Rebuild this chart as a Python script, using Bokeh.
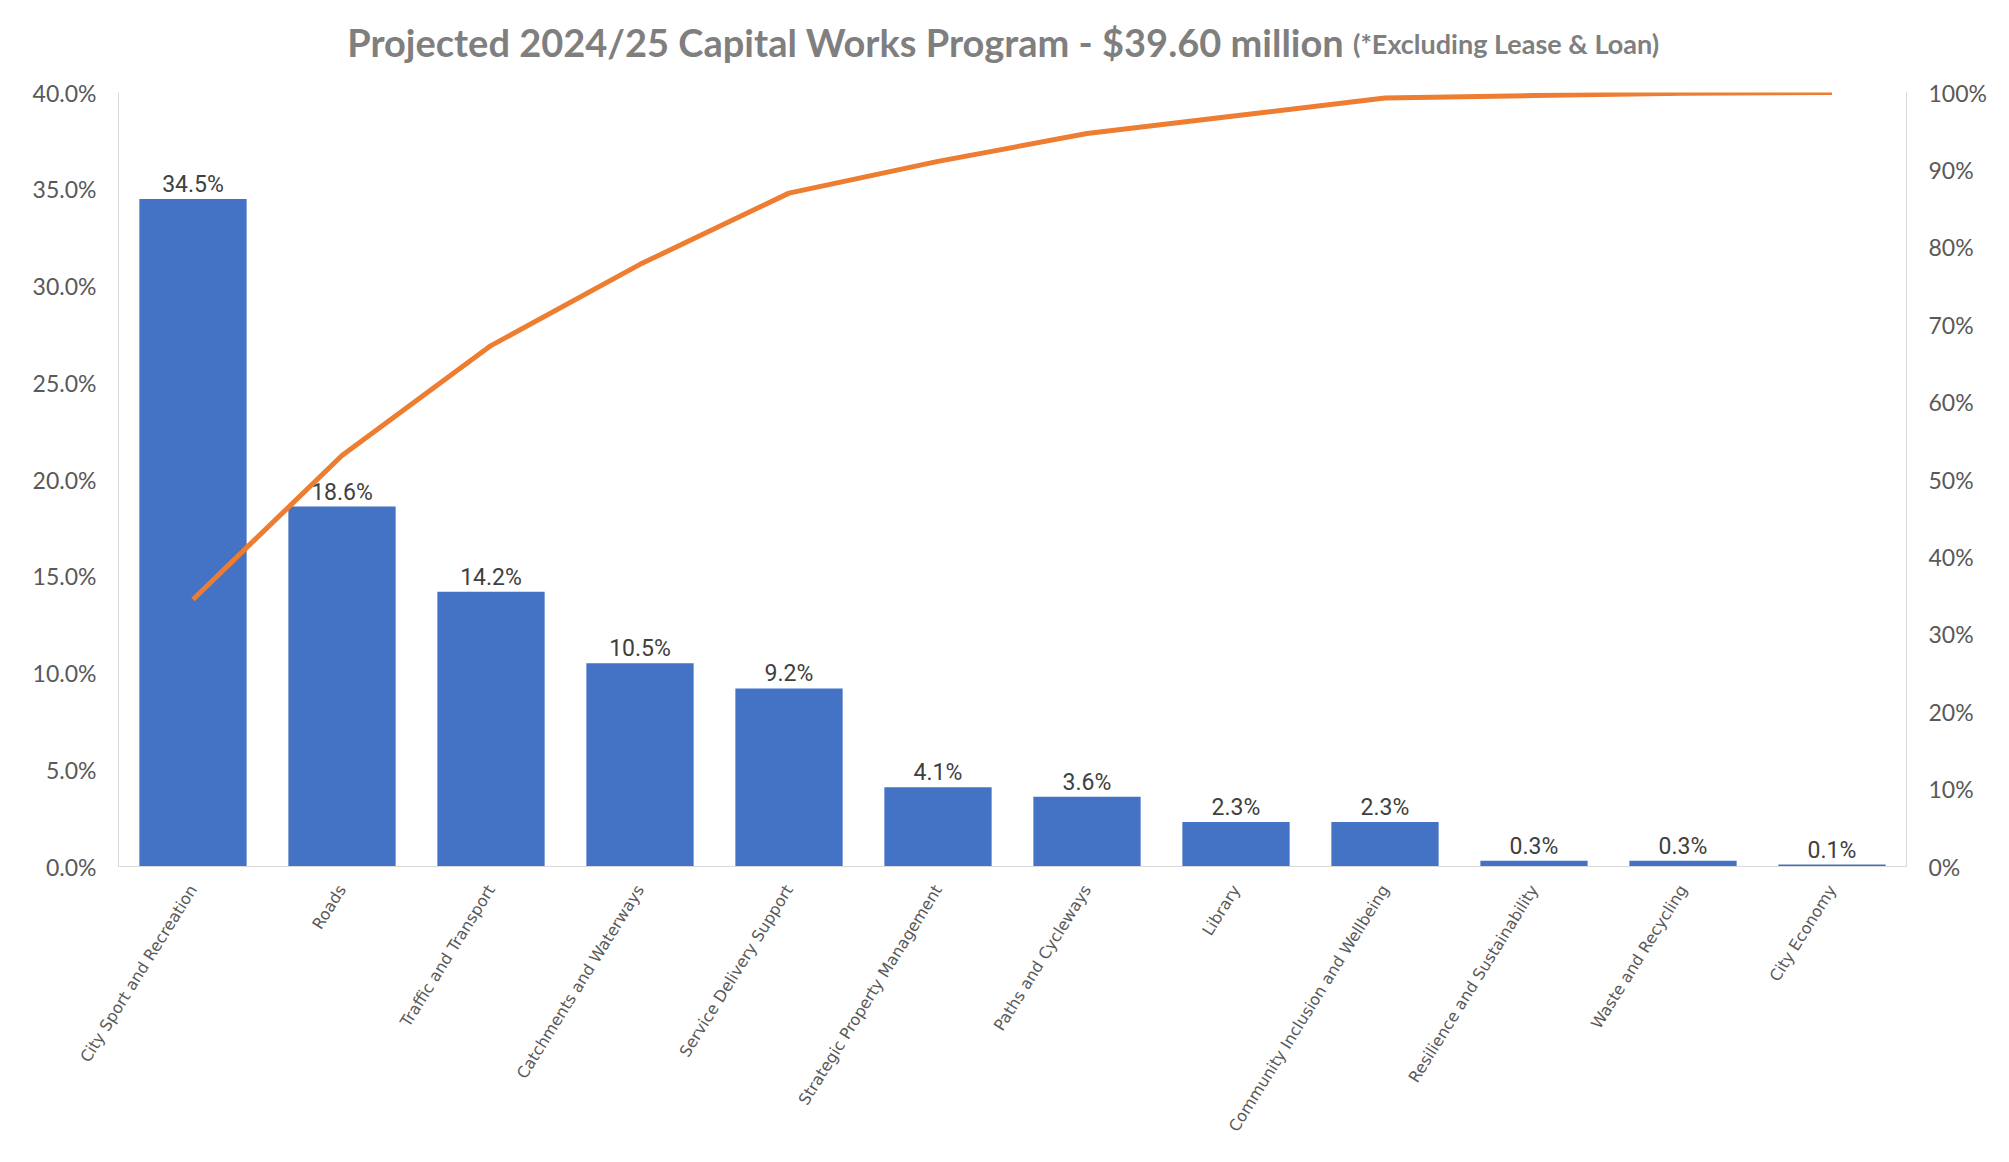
import math
from bokeh.plotting import figure
from bokeh.layouts import column
from bokeh.models import (FactorRange, Range1d, LinearAxis, FixedTicker,
                          PrintfTickFormatter, ColumnDataSource)
from bokeh.core.properties import value
from bokeh.embed import file_html
from bokeh.resources import INLINE

# ---- data ----
categories = ["City Sport and Recreation", "Roads", "Traffic and Transport",
              "Catchments and Waterways", "Service Delivery Support",
              "Strategic Property Management", "Paths and Cycleways", "Library",
              "Community Inclusion and Wellbeing", "Resilience and Sustainability",
              "Waste and Recycling", "City Economy"]
share_pct = [34.5, 18.6, 14.2, 10.5, 9.2, 4.1, 3.6, 2.3, 2.3, 0.3, 0.3, 0.1]
cumulative_pct = [34.5, 53.1, 67.3, 77.8, 87.0, 91.1, 94.7, 97.0, 99.3, 99.6, 99.9, 100.0]
left_ticks = [0, 5, 10, 15, 20, 25, 30, 35, 40]
right_ticks = [0, 10, 20, 30, 40, 50, 60, 70, 80, 90, 100]
title_main = "Projected 2024/25 Capital Works Program - $39.60 million"
title_sub = "(*Excluding Lease & Loan)"

BAR = "#4472C4"
LINE = "#ED7D31"
AXIS = "#D9D9D9"
TICK_TXT = "#595959"
TITLE_TXT = "#7F7F7F"

W = 1993
TH = 78          # title strip height
H = 1146 - TH    # main chart height

# ---- title strip ----
t = figure(width=W, height=TH, output_backend="svg", toolbar_location=None,
           x_range=Range1d(0, W), y_range=Range1d(0, TH),
           min_border=0, x_axis_type=None, y_axis_type=None)
t.outline_line_color = None
t.grid.visible = False
t.text(x=[1366], y=[TH - 41], text=[title_main], text_align="right",
       text_baseline="middle", text_font=value("Lato"), text_font_size="38px",
       text_font_style="bold", text_color=TITLE_TXT)
t.text(x=[1376], y=[TH - 43], text=[title_sub], text_align="left",
       text_baseline="middle", text_font=value("Lato"), text_font_size="27px",
       text_font_style="bold", text_color=TITLE_TXT)

# ---- main chart ----
p = figure(width=W, height=H, output_backend="svg", toolbar_location=None,
           x_range=FactorRange(*categories, range_padding=0),
           y_range=Range1d(0, 40),
           min_border_left=118, min_border_right=87,
           min_border_top=92 - TH, min_border_bottom=280,
           background_fill_color="white", border_fill_color="white")
p.outline_line_color = None
p.grid.visible = False
p.extra_y_ranges = {"cum": Range1d(0, 100)}

src = ColumnDataSource(dict(cat=categories, v=share_pct, cum=cumulative_pct,
                            lab=[f"{v:.1f}%" for v in share_pct]))

p.vbar(x="cat", top="v", width=0.72, source=src, fill_color=BAR, line_color=None)
p.text(x="cat", y="v", text="lab", source=src, text_align="center",
       text_baseline="bottom", y_offset=-1, text_font=value("Roboto"),
       text_font_size="23px", text_color="#404040")
p.line(x="cat", y="cum", source=src, y_range_name="cum", line_color=LINE,
       line_width=5)

ya = p.yaxis[0]
ya.ticker = FixedTicker(ticks=left_ticks)
ya.formatter = PrintfTickFormatter(format="%.1f%%")
ya.axis_line_color = AXIS
ya.major_tick_line_color = None
ya.minor_tick_line_color = None
ya.major_label_text_font = "Lato"
ya.major_label_text_font_size = "23px"
ya.major_label_text_color = TICK_TXT
ya.major_label_standoff = 16

ra = LinearAxis(y_range_name="cum", ticker=FixedTicker(ticks=right_ticks),
                formatter=PrintfTickFormatter(format="%d%%"))
ra.axis_line_color = AXIS
ra.major_tick_line_color = None
ra.minor_tick_line_color = None
ra.major_label_text_font = "Lato"
ra.major_label_text_font_size = "23px"
ra.major_label_text_color = TICK_TXT
ra.major_label_standoff = 16
p.add_layout(ra, "right")

xa = p.xaxis[0]
xa.axis_line_color = AXIS
xa.major_tick_line_color = None
xa.minor_tick_line_color = None
xa.major_label_orientation = math.radians(58)
xa.major_label_text_font = "DejaVu Sans"
xa.major_label_text_font_size = "16px"
xa.major_label_text_color = TICK_TXT
xa.major_label_standoff = 14

layout = column(t, p, spacing=0)
open("out.html", "w").write(file_html(layout, INLINE))
